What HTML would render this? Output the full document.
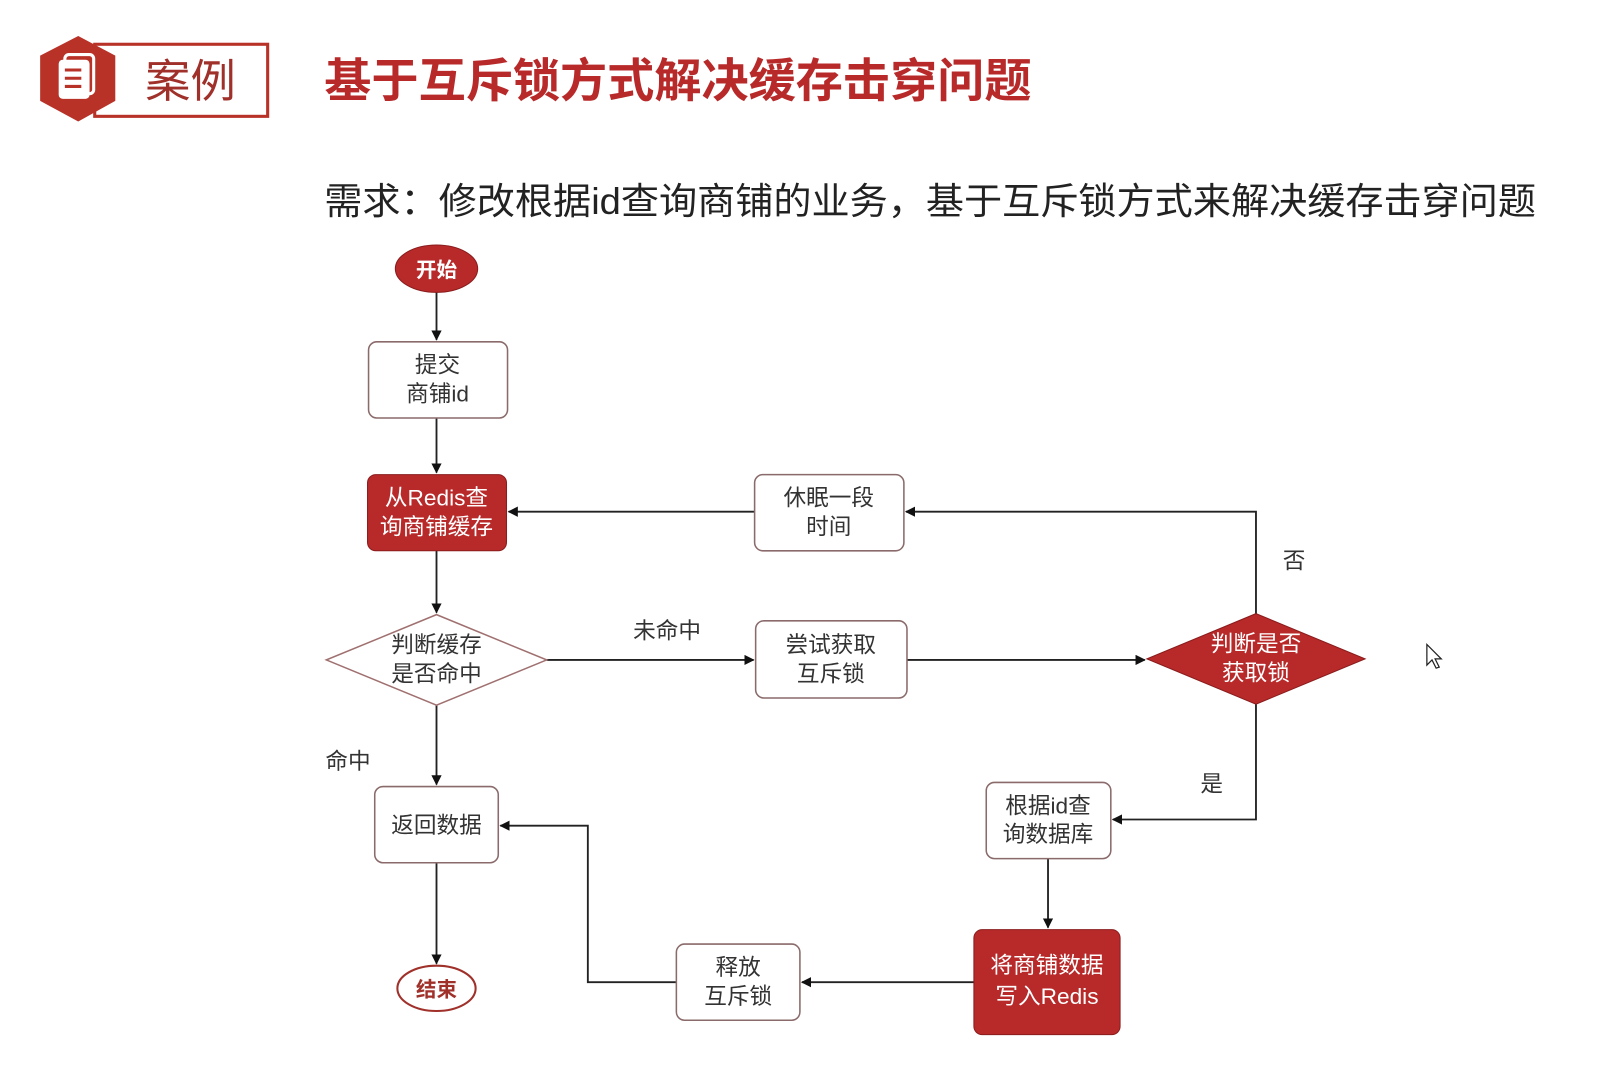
<!DOCTYPE html>
<html><head><meta charset="utf-8"><style>
html,body{margin:0;padding:0;background:#fff;}
svg{display:block;}
text{font-family:"Liberation Sans","Noto Sans CJK SC",sans-serif;}
</style></head><body>
<svg width="1606" height="1081" viewBox="3 2 1560 1050" preserveAspectRatio="none" xmlns="http://www.w3.org/2000/svg">
<defs>
<marker id="a" markerWidth="10" markerHeight="10" refX="9" refY="5" orient="auto" markerUnits="userSpaceOnUse"><path d="M0,0 L10,5 L0,10 z" fill="#111"/></marker>
</defs>
<rect x="95" y="45" width="168" height="70" fill="#fff" stroke="#b83228" stroke-width="3"/>
<polygon points="79,37 115,56 115,100 79,120 42,100 42,56" fill="#b83228"/>
<rect x="60" y="60" width="30" height="38" rx="4" fill="#fff"/>
<rect x="66" y="55" width="28" height="38" rx="4" fill="none" stroke="#fff" stroke-width="3"/>
<line x1="66" y1="70" x2="82" y2="70" stroke="#b83228" stroke-width="3"/>
<line x1="66" y1="78" x2="82" y2="78" stroke="#b83228" stroke-width="3"/>
<line x1="66" y1="86" x2="82" y2="86" stroke="#b83228" stroke-width="3"/>
<text x="188" y="96" font-size="44" fill="#a0302a" text-anchor="middle">案例</text>
<text x="318" y="96" font-size="45" font-weight="bold" fill="#b8292a" textLength="687" lengthAdjust="spacingAndGlyphs">基于互斥锁方式解决缓存击穿问题</text>
<text x="318" y="210" font-size="36" fill="#222" textLength="1177" lengthAdjust="spacingAndGlyphs">需求：修改根据id查询商铺的业务，基于互斥锁方式来解决缓存击穿问题</text>

<g stroke="#222" stroke-width="1.8" fill="none">
<line x1="427" y1="286" x2="427" y2="332" marker-end="url(#a)"/>
<line x1="427" y1="408" x2="427" y2="461" marker-end="url(#a)"/>
<line x1="427" y1="537" x2="427" y2="597" marker-end="url(#a)"/>
<line x1="427" y1="687" x2="427" y2="764" marker-end="url(#a)"/>
<line x1="427" y1="840" x2="427" y2="938" marker-end="url(#a)"/>
<line x1="534" y1="643" x2="735" y2="643" marker-end="url(#a)"/>
<line x1="884" y1="643" x2="1115" y2="643" marker-end="url(#a)"/>
<polyline points="1223,598 1223,499 883,499" marker-end="url(#a)"/>
<line x1="736" y1="499" x2="497" y2="499" marker-end="url(#a)"/>
<polyline points="1223,686 1223,798 1084,798" marker-end="url(#a)"/>
<line x1="1021" y1="836" x2="1021" y2="903" marker-end="url(#a)"/>
<line x1="949" y1="956" x2="782" y2="956" marker-end="url(#a)"/>
<polyline points="660,956 574,956 574,804 489,804" marker-end="url(#a)"/>
</g>

<ellipse cx="427" cy="263" rx="40" ry="23" fill="#b8292a" stroke="#8a1c1c"/>
<text x="427" y="271" font-size="20" fill="#fff" text-anchor="middle" font-weight="bold">开始</text>

<rect x="361" y="334" width="135" height="74" rx="8" fill="#fff" stroke="#8a6a6a" stroke-width="1.5"/>
<text x="428" y="364" font-size="22" fill="#333" text-anchor="middle">提交</text>
<text x="428" y="392" font-size="22" fill="#333" text-anchor="middle">商铺id</text>

<rect x="360" y="463" width="135" height="74" rx="8" fill="#b8292a" stroke="#8a1c1c"/>
<text x="427" y="493" font-size="22" fill="#fff" text-anchor="middle">从Redis查</text>
<text x="427" y="521" font-size="22" fill="#fff" text-anchor="middle">询商铺缓存</text>

<rect x="736" y="463" width="145" height="74" rx="8" fill="#fff" stroke="#8a6a6a" stroke-width="1.5"/>
<text x="808" y="493" font-size="22" fill="#333" text-anchor="middle">休眠一段</text>
<text x="808" y="521" font-size="22" fill="#333" text-anchor="middle">时间</text>

<polygon points="427,599 534,643 427,687 320,643" fill="#fff" stroke="#a07070" stroke-width="1.5"/>
<text x="427" y="636" font-size="22" fill="#333" text-anchor="middle">判断缓存</text>
<text x="427" y="664" font-size="22" fill="#333" text-anchor="middle">是否命中</text>

<rect x="737" y="605" width="147" height="75" rx="8" fill="#fff" stroke="#8a6a6a" stroke-width="1.5"/>
<text x="810" y="636" font-size="22" fill="#333" text-anchor="middle">尝试获取</text>
<text x="810" y="664" font-size="22" fill="#333" text-anchor="middle">互斥锁</text>

<polygon points="1223,598 1329,642 1223,686 1117,642" fill="#b8292a" stroke="#8a1c1c"/>
<text x="1223" y="635" font-size="22" fill="#fff" text-anchor="middle">判断是否</text>
<text x="1223" y="663" font-size="22" fill="#fff" text-anchor="middle">获取锁</text>

<rect x="367" y="766" width="120" height="74" rx="8" fill="#fff" stroke="#8a6a6a" stroke-width="1.5"/>
<text x="427" y="811" font-size="22" fill="#333" text-anchor="middle">返回数据</text>

<rect x="961" y="762" width="121" height="74" rx="8" fill="#fff" stroke="#8a6a6a" stroke-width="1.5"/>
<text x="1021" y="792" font-size="22" fill="#333" text-anchor="middle">根据id查</text>
<text x="1021" y="820" font-size="22" fill="#333" text-anchor="middle">询数据库</text>

<rect x="949" y="905" width="142" height="102" rx="8" fill="#b8292a" stroke="#8a1c1c"/>
<text x="1020" y="947" font-size="22" fill="#fff" text-anchor="middle">将商铺数据</text>
<text x="1020" y="977" font-size="22" fill="#fff" text-anchor="middle">写入Redis</text>

<rect x="660" y="919" width="120" height="74" rx="8" fill="#fff" stroke="#8a6a6a" stroke-width="1.5"/>
<text x="720" y="949" font-size="22" fill="#333" text-anchor="middle">释放</text>
<text x="720" y="977" font-size="22" fill="#333" text-anchor="middle">互斥锁</text>

<ellipse cx="427" cy="962" rx="38" ry="22" fill="#fff" stroke="#a0302a" stroke-width="2"/>
<text x="427" y="970" font-size="20" fill="#a0302a" text-anchor="middle" font-weight="bold">结束</text>

<text x="651" y="622" font-size="22" fill="#333" text-anchor="middle">未命中</text>
<text x="1260" y="554" font-size="22" fill="#333" text-anchor="middle">否</text>
<text x="341" y="749" font-size="22" fill="#333" text-anchor="middle">命中</text>
<text x="1180" y="771" font-size="22" fill="#333" text-anchor="middle">是</text>
<path d="M1389,628 l0,20 l5,-5 l4,8 l3,-1 l-4,-8 l6,0 z" fill="#fff" stroke="#222" stroke-width="1.2"/>
</svg>
</body></html>
